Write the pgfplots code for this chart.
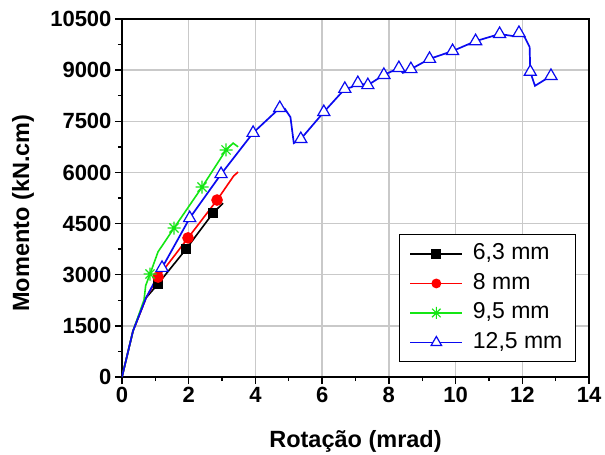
\documentclass[border=0pt]{standalone}
\usepackage{fontspec}
\setmainfont{Liberation Sans}
\usepackage{pgfplots}
\pgfplotsset{compat=1.18}

\definecolor{cblack}{RGB}{0,0,0}
\definecolor{cred}{RGB}{255,0,0}
\definecolor{cgreen}{RGB}{20,230,20}
\definecolor{cblue}{RGB}{10,10,240}

% eight-armed star used for the 9,5 mm series
\pgfdeclareplotmark{star8}{%
  \pgfpathmoveto{\pgfqpoint{-\pgfplotmarksize}{0pt}}%
  \pgfpathlineto{\pgfqpoint{\pgfplotmarksize}{0pt}}%
  \pgfpathmoveto{\pgfqpoint{0pt}{-\pgfplotmarksize}}%
  \pgfpathlineto{\pgfqpoint{0pt}{\pgfplotmarksize}}%
  \pgfpathmoveto{\pgfqpoint{-0.707\pgfplotmarksize}{-0.707\pgfplotmarksize}}%
  \pgfpathlineto{\pgfqpoint{0.707\pgfplotmarksize}{0.707\pgfplotmarksize}}%
  \pgfpathmoveto{\pgfqpoint{-0.707\pgfplotmarksize}{0.707\pgfplotmarksize}}%
  \pgfpathlineto{\pgfqpoint{0.707\pgfplotmarksize}{-0.707\pgfplotmarksize}}%
  \pgfusepathqstroke}

\begin{document}
\begin{tikzpicture}
\begin{axis}[
  scale only axis,
  width=467pt, height=358pt,
  xmin=0, xmax=14, ymin=0, ymax=10500,
  xtick={0,2,...,14},
  ytick={0,1500,...,10500},
  scaled y ticks=false,
  minor x tick num=1, minor y tick num=1,
  tick align=outside, tick pos=left,
  major tick length=7pt, minor tick length=4pt,
  every tick/.style={black, line width=1.3pt},
  axis line style={line width=1.5pt},
  grid=major,
  major grid style={line width=1.5pt, color=gray!42},
  /pgf/number format/assume math mode=true,
  /pgf/number format/set thousands separator={},
  yticklabel={\pgfmathprintnumber[fixed,precision=0]{\tick}},
  ticklabel style={font=\fontsize{22}{22}\selectfont\bfseries},
  xlabel={Rotação (mrad)},
  ylabel={Momento (kN.cm)},
  label style={font=\fontsize{23.5}{23.5}\selectfont\bfseries},
  xlabel style={at={(axis description cs:0.5,0)}, anchor=center, yshift=-64pt},
  ylabel style={at={(axis description cs:-0.212,0.458)}, anchor=center},
  legend cell align=left,
  legend image code/.code={%
    \draw[mark repeat=2, mark phase=2, #1]
      plot coordinates {(0pt,0pt) (26pt,0pt) (52pt,0pt)};},
  legend style={
    at={(rel axis cs:0.972,0.042)}, anchor=south east,
    draw=black, line width=1pt,
    font=\fontsize{23}{23}\selectfont,
    inner xsep=10pt, inner ysep=5pt,
    row sep=1.5pt, column sep=7pt,
    nodes={inner sep=3pt, text height=17pt, text depth=5pt},
  },
]

% 6,3 mm
\addplot[cblack, line width=1.6pt, mark=square*, mark size=4.3pt,
  mark indices={4,5,6}, forget plot] coordinates {
  (0,0) (0.33,1350) (0.72,2320) (1.08,2730) (1.92,3750) (2.73,4810) (3.03,5100)
};

% 8 mm
\addplot[cred, line width=1.6pt, mark=*, mark size=5pt,
  mark indices={4,5,6}, forget plot] coordinates {
  (0,0) (0.33,1350) (0.72,2320) (1.08,2930) (1.98,4080) (2.85,5190)
  (3.35,5900) (3.48,6010)
};

% 9,5 mm
\addplot[cgreen, line width=1.6pt, mark=star8, mark size=6.5pt,
  mark options={line width=1.2pt},
  mark indices={5,7,8,9}, forget plot] coordinates {
  (0,0) (0.33,1350) (0.66,2260) (0.71,2680) (0.84,3020) (1.08,3670)
  (1.56,4370) (2.40,5570) (3.12,6660) (3.33,6860) (3.48,6750)
};

% 12,5 mm
\addplot[cblue, line width=1.7pt, mark=triangle*, mark size=7pt,
  mark options={fill=white, line width=1.2pt},
  mark indices={4,5,6,7,8,12,13,14,16,17,18,19,21,22,23,24,25,27,30,32},
  forget plot] coordinates {
  (0,0) (0.33,1350) (0.72,2320) (1.20,3200) (2.03,4660) (2.97,5950)
  (3.93,7160) (4.73,7890) (4.88,7870) (5.05,7620) (5.15,6860) (5.36,6980)
  (6.05,7770) (6.68,8450) (6.88,8500) (7.07,8620) (7.37,8560) (7.85,8860)
  (8.30,9060) (8.42,8920) (8.66,9030) (9.22,9330) (9.91,9560) (10.60,9850)
  (11.32,10060) (11.72,10000) (11.90,10090) (12.07,9970) (12.22,9680)
  (12.24,8950) (12.38,8540) (12.86,8830)
};

\addlegendimage{cblack, line width=1.2pt, mark=square*, mark size=4.3pt}
\addlegendentry{6,3 mm}
\addlegendimage{cred, line width=1.2pt, mark=*, mark size=4.3pt}
\addlegendentry{8 mm}
\addlegendimage{cgreen, line width=1.2pt, mark=star8, mark size=6pt}
\addlegendentry{9,5 mm}
\addlegendimage{cblue, line width=1.2pt, mark=triangle*, mark size=6pt, mark options={fill=white}}
\addlegendentry{12,5 mm}
\end{axis}
\pgfresetboundingbox
\path ([xshift=-122pt,yshift=-78pt]current axis.south west)
  rectangle ([xshift=16pt,yshift=19pt]current axis.north east);
\end{tikzpicture}
\end{document}
